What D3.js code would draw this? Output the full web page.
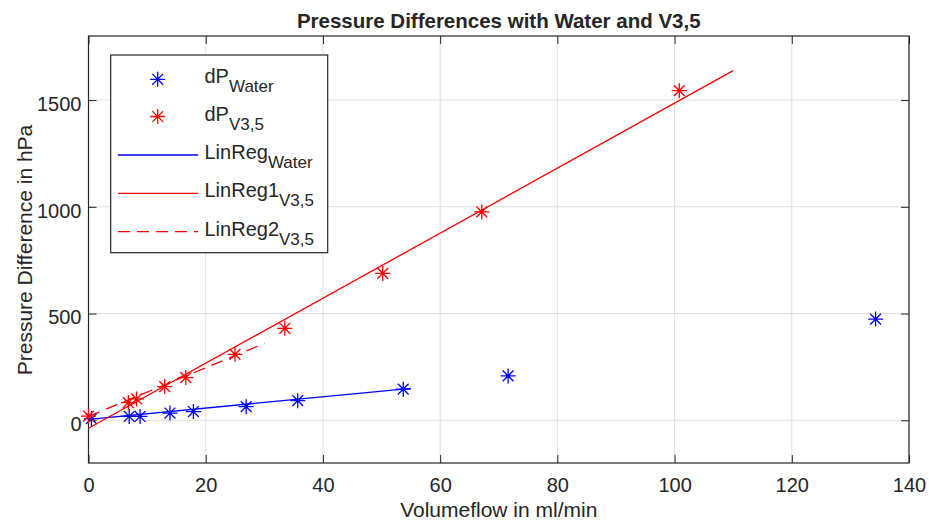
<!DOCTYPE html>
<html><head><meta charset="utf-8">
<script src="https://cdn.jsdelivr.net/npm/d3@7/dist/d3.min.js"></script>
<style>body{margin:0;background:#fff}svg{display:block}text{font-family:"Liberation Sans",Arial,sans-serif;fill:#262626}</style>
</head><body><svg id="c" width="929" height="524"></svg>
<script>
const waterFlow = [0.5, 6.95, 8.8, 13.9, 17.9, 26.9, 35.7, 53.7, 71.6, 134.3];
const waterDP   = [8, 18, 18, 34, 41, 64, 92, 146, 208, 474];
const v35Flow   = [0, 6.8, 8.2, 13.0, 16.6, 25.0, 33.5, 50.2, 67.1, 100.8];
const v35DP     = [20, 83, 100, 158, 200, 309, 431, 688, 976, 1544];
const linRegWaterX = [0, 55],  linRegWaterY = [4, 150];
const linReg1X = [0, 110],     linReg1Y = [-37, 1638];
const linReg2X = [0, 30],      linReg2Y = [18, 360];
const xTicks = [0, 20, 40, 60, 80, 100, 120, 140];
const yTicks = [0, 500, 1000, 1500];

const svg = d3.select("#c");
const L = 88.5, R = 909, T = 36, B = 463;
const x = d3.scaleLinear().domain([0, 140]).range([L, R]);
const y = d3.scaleLinear().domain([-200, 1800]).range([B, T]);
const axisCol = "#262626", gridCol = "#dfdfdf";

// grid
svg.append("g").selectAll("line").data(xTicks).join("line")
  .attr("x1", d => x(d)).attr("x2", d => x(d)).attr("y1", T).attr("y2", B)
  .attr("stroke", gridCol).attr("stroke-width", 1);
svg.append("g").selectAll("line").data(yTicks).join("line")
  .attr("y1", d => y(d)).attr("y2", d => y(d)).attr("x1", L).attr("x2", R)
  .attr("stroke", gridCol).attr("stroke-width", 1);

// axes via d3 axis (inward ticks)
const tl = 8;
const fmt = d3.format("d");
const xb = svg.append("g").attr("transform", `translate(0,${B})`)
  .call(d3.axisBottom(x).tickValues(xTicks).tickFormat(fmt).tickSize(-tl).tickPadding(13).tickSizeOuter(0));
const xt = svg.append("g").attr("transform", `translate(0,${T})`)
  .call(d3.axisTop(x).tickValues(xTicks).tickSize(-tl).tickFormat("").tickSizeOuter(0));
const yl = svg.append("g").attr("transform", `translate(${L},0)`)
  .call(d3.axisLeft(y).tickValues(yTicks).tickFormat(fmt).tickSize(-tl).tickPadding(7).tickSizeOuter(0));
const yr = svg.append("g").attr("transform", `translate(${R},0)`)
  .call(d3.axisRight(y).tickValues(yTicks).tickSize(-tl).tickFormat("").tickSizeOuter(0));
[xb, xt, yl, yr].forEach(g => {
  g.select(".domain").remove();
  g.selectAll(".tick line").attr("stroke", axisCol);
  g.selectAll("text").attr("font-size", 20).attr("fill", axisCol)
    .attr("font-family", '"Liberation Sans", Arial, sans-serif');
});
xb.selectAll("text").attr("dy", null).attr("y", 28.5);
yl.selectAll("text").attr("dy", "0.52em");
svg.append("rect").attr("x", L).attr("y", T).attr("width", R - L).attr("height", B - T)
  .attr("fill", "none").attr("stroke", axisCol).attr("stroke-width", 1.2);

// lines
const line = d3.line().x(d => x(d[0])).y(d => y(d[1]));
const plotLine = (xs, ys, col, dash) => svg.append("path")
  .attr("d", line(d3.zip(xs, ys))).attr("fill", "none").attr("stroke", col)
  .attr("stroke-width", 1.3).attr("stroke-dasharray", dash || null);

// asterisk marker
const star = (g, cx, cy, col, r) => {
  const d = r * 0.72;
  g.append("path")
    .attr("d", `M${cx - r},${cy}H${cx + r}M${cx},${cy - r}V${cy + r}M${cx - d},${cy - d}L${cx + d},${cy + d}M${cx - d},${cy + d}L${cx + d},${cy - d}`)
    .attr("stroke", col).attr("stroke-width", 1.3).attr("fill", "none");
};
const mg = svg.append("g");
d3.zip(waterFlow, waterDP).forEach(p => star(mg, x(p[0]), y(p[1]), "#0000ff", 7.5));
plotLine(linRegWaterX, linRegWaterY, "#0000ff");
d3.zip(v35Flow, v35DP).forEach(p => star(mg, x(p[0]), y(p[1]), "#ff0000", 7.5));
plotLine(linReg1X, linReg1Y, "#ff0000");
plotLine(linReg2X, linReg2Y, "#ff0000", "12,7");

// title and labels
svg.append("text").attr("x", (L + R) / 2).attr("y", 27.5).attr("text-anchor", "middle")
  .attr("font-size", 20.5).attr("font-weight", "bold").attr("fill", "#000")
  .text("Pressure Differences with Water and V3,5");
svg.append("text").attr("x", (L + R) / 2).attr("y", 516.5).attr("text-anchor", "middle")
  .attr("font-size", 21).text("Volumeflow in ml/min");
svg.append("text").attr("transform", "translate(32,250) rotate(-90)").attr("text-anchor", "middle")
  .attr("font-size", 21).text("Pressure Difference in hPa");

// legend
const lg = svg.append("g");
lg.append("rect").attr("x", 110.7).attr("y", 55).attr("width", 217).attr("height", 197.7)
  .attr("fill", "#fff").attr("stroke", axisCol).attr("stroke-width", 1.2);
const entries = [
  {main: "dP", sub: "Water", col: "#0000ff", type: "marker", row: 79.3},
  {main: "dP", sub: "V3,5", col: "#ff0000", type: "marker", row: 116.5},
  {main: "LinReg", sub: "Water", col: "#0000ff", type: "line", row: 155},
  {main: "LinReg1", sub: "V3,5", col: "#ff0000", type: "line", row: 193.3},
  {main: "LinReg2", sub: "V3,5", col: "#ff0000", type: "dash", row: 231.7}
];
entries.forEach(e => {
  if (e.type === "marker") star(lg, 157.7, e.row, e.col, 7.5);
  else lg.append("line").attr("x1", 118).attr("x2", 198).attr("y1", e.row).attr("y2", e.row)
    .attr("stroke", e.col).attr("stroke-width", 1.3).attr("stroke-dasharray", e.type === "dash" ? "12,7" : null);
  const t = lg.append("text").attr("x", 204.5).attr("y", e.row + 4).attr("font-size", 20).attr("fill", "#262626");
  t.append("tspan").text(e.main);
  t.append("tspan").attr("font-size", 17).attr("dy", 9).text(e.sub);
});
</script></body></html>
